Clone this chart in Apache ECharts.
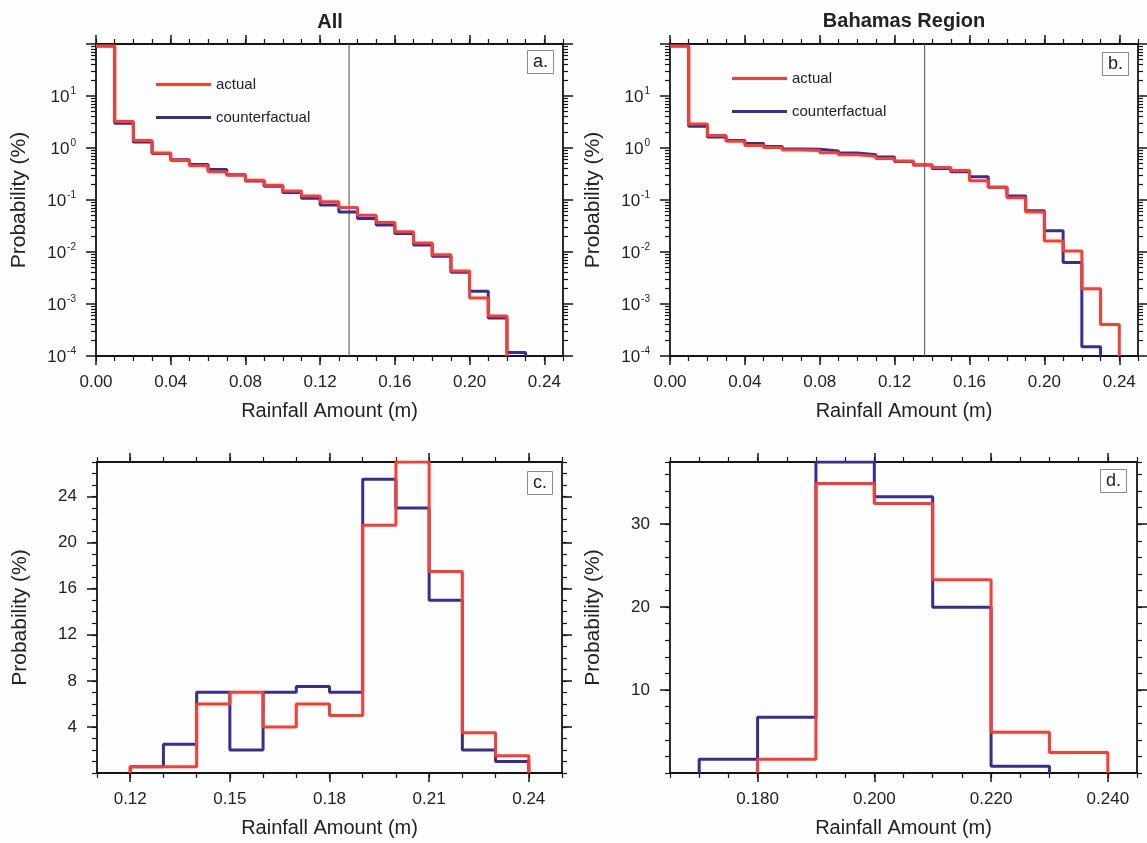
<!DOCTYPE html>
<html><head><meta charset="utf-8">
<script src="https://cdn.jsdelivr.net/npm/echarts@6/dist/echarts.min.js"></script>
<style>html,body{margin:0;padding:0;background:#fcfdfd}#c{width:1147px;height:843px}</style>
</head><body><div id="c"></div>
<script>
// ---------- data ----------
const binWidth = 0.01;
const binStartsAB = [0.00,0.01,0.02,0.03,0.04,0.05,0.06,0.07,0.08,0.09,0.10,0.11,0.12,0.13,0.14,0.15,0.16,0.17,0.18,0.19,0.20,0.21,0.22,0.23];
const aActual  = [92,3.25,1.39,0.805,0.577,0.455,0.349,0.298,0.239,0.192,0.149,0.12,0.093,0.0716,0.051,0.037,0.0245,0.0149,0.0089,0.0043,0.0013,0.00059,0,0];
const aCounter = [92,2.98,1.31,0.78,0.593,0.483,0.388,0.306,0.232,0.183,0.139,0.108,0.080,0.059,0.044,0.033,0.0228,0.0137,0.0083,0.0041,0.00175,0.00054,0.000117,0];
const bActual  = [92,2.89,1.73,1.35,1.12,1.02,0.92,0.90,0.81,0.74,0.69,0.63,0.56,0.475,0.42,0.37,0.235,0.175,0.111,0.059,0.0162,0.0105,0.00197,0.000404];
const bCounter = [92,2.61,1.63,1.39,1.22,1.07,0.96,0.95,0.88,0.80,0.74,0.67,0.55,0.47,0.405,0.35,0.28,0.176,0.12,0.062,0.0257,0.0063,0.000151,0];
const thresholdA = 0.1355;
const thresholdB = 0.136;

const binStartsC = [0.12,0.13,0.14,0.15,0.16,0.17,0.18,0.19,0.20,0.21,0.22,0.23];
const cActual  = [0.55,0.55,6.0,7.0,4.0,6.0,5.0,21.5,27,17.5,3.5,1.5];
const cCounter = [0.55,2.5,7.0,2.0,7.0,7.5,7.0,25.5,23.0,15.0,2.0,1.0];

const binStartsD = [0.17,0.18,0.19,0.20,0.21,0.22,0.23];
const dActual  = [0,1.67,34.9,32.5,23.3,4.9,2.46];
const dCounter = [1.67,6.72,37.5,33.3,20.0,0.8,0];

// tick labels
const xTicksAB = [0.00,0.04,0.08,0.12,0.16,0.20,0.24];
const yTicksLog = [1e-4,1e-3,1e-2,1e-1,1,10];
const xTicksC = [0.12,0.15,0.18,0.21,0.24];
const yTicksC = [4,8,12,16,20,24];
const xTicksD = [0.18,0.20,0.22,0.24];
const yTicksD = [10,20,30];

const panelTitles = ['All','Bahamas Region'];
const panelTags = ['a.','b.','c.','d.'];
const seriesNames = ['actual','counterfactual'];

// ---------- styling ----------
const FONT = 'Liberation Sans, Arial, Helvetica, sans-serif';
const RED = '#ff3b2f', BLUE = '#3a2c98', INK = '#151515', TXT = '#222';

const grids = [
  {left:96, top:44, width:467, height:312},
  {left:670, top:44, width:468, height:312},
  {left:97, top:462, width:465, height:311},
  {left:670, top:462, width:467, height:311}
];

const logMinor = [];
for (let e = -4; e <= 1; e++) for (let m = 2; m <= 9; m++) logMinor.push(+(m * Math.pow(10, e)).toPrecision(3));
const logMajor = [1e-4,1e-3,1e-2,1e-1,1,10,100];

const xAxes = [], yAxes = [];
function addX(gi, c) {
  const base = {type:'value', gridIndex:gi, min:c.min, max:c.max, splitLine:{show:false}};
  const major = pos => Object.assign({}, base, {
    position:pos,
    axisLine:{show:true, onZero:false, lineStyle:{color:INK, width:1.8}},
    axisTick:{show:true, inside:false, length:9, customValues:c.majors, lineStyle:{color:INK, width:1.5}},
    axisLabel: pos === 'bottom' ? {show:true, customValues:c.majors, formatter:c.fmt, margin:18, fontSize:17, color:TXT, fontFamily:FONT} : {show:false},
    name: pos === 'bottom' ? 'Rainfall Amount (m)' : '',
    nameLocation:'middle', nameGap:45,
    nameTextStyle:{fontSize:20, color:TXT, fontFamily:FONT}
  });
  const minor = pos => Object.assign({}, base, {
    position:pos, interval:c.minorStep,
    axisLine:{show:false, onZero:false},
    axisTick:{show:true, inside:false, length:5, lineStyle:{color:INK, width:1.2}},
    axisLabel:{show:false}
  });
  const idx = xAxes.length;
  xAxes.push(major('bottom'), minor('bottom'), major('top'), minor('top'));
  return idx;
}
function addY(gi, c) {
  const base = {type:c.type, gridIndex:gi, min:c.min, max:c.max, splitLine:{show:false}};
  if (c.type === 'log') base.logBase = 10;
  const major = pos => Object.assign({}, base, {
    position:pos,
    axisLine:{show:true, onZero:false, lineStyle:{color:INK, width:1.8}},
    axisTick:{show:true, inside:false, length:10, customValues:c.majors, lineStyle:{color:INK, width:1.5}},
    axisLabel: pos === 'left' ? {show:true, customValues:c.labels, formatter:c.fmt, rich:c.rich, margin:20, fontSize:17, color:TXT, fontFamily:FONT} : {show:false},
    name: pos === 'left' ? 'Probability (%)' : '',
    nameLocation:'middle', nameGap:66, nameRotate:90,
    nameTextStyle:{fontSize:21, color:TXT, fontFamily:FONT}
  });
  const minor = pos => {
    const o = Object.assign({}, base, {
      position:pos,
      axisLine:{show:false, onZero:false},
      axisTick:{show:true, inside:false, length:5, lineStyle:{color:INK, width:1.2}},
      axisLabel:{show:false}
    });
    if (c.minorValues) o.axisTick.customValues = c.minorValues; else o.interval = c.minorStep;
    return o;
  };
  const idx = yAxes.length;
  yAxes.push(major('left'), minor('left'), major('right'), minor('right'));
  return idx;
}

const fmt2 = v => v.toFixed(2);
const fmt3 = v => v.toFixed(3);
const logFmt = v => '{b|10}{s|' + Math.round(Math.log10(v)) + '}';
const logRich = {
  b:{fontSize:17, color:TXT, fontFamily:FONT, verticalAlign:'bottom'},
  s:{fontSize:10, color:TXT, fontFamily:FONT, verticalAlign:'bottom', padding:[0,0,9,1]}
};

const panels = [
  {x:{min:0, max:0.25, majors:xTicksAB, minorStep:0.01, fmt:fmt2},
   y:{type:'log', min:1e-4, max:100, majors:logMajor, labels:yTicksLog, minorValues:logMinor, fmt:logFmt, rich:logRich},
   starts:binStartsAB, act:aActual, cf:aCounter, floor:1e-4, top:100, lead:false, thr:thresholdA},
  {x:{min:0, max:0.25, majors:xTicksAB, minorStep:0.01, fmt:fmt2},
   y:{type:'log', min:1e-4, max:100, majors:logMajor, labels:yTicksLog, minorValues:logMinor, fmt:logFmt, rich:logRich},
   starts:binStartsAB, act:bActual, cf:bCounter, floor:1e-4, top:100, lead:false, thr:thresholdB},
  {x:{min:0.11, max:0.25, majors:xTicksC, minorStep:0.01, fmt:fmt2},
   y:{type:'value', min:0, max:27, majors:yTicksC, labels:yTicksC, minorStep:1, fmt:v => String(v)},
   starts:binStartsC, act:cActual, cf:cCounter, floor:0, lead:true},
  {x:{min:0.165, max:0.245, majors:xTicksD, minorStep:0.005, fmt:fmt3},
   y:{type:'value', min:0, max:37.5, majors:yTicksD, labels:yTicksD, minorStep:2, fmt:v => String(v)},
   starts:binStartsD, act:dActual, cf:dCounter, floor:0, lead:true}
];

function stepPoints(starts, vals, floor, lead) {
  let first = -1, last = -1;
  vals.forEach((v, i) => { if (v > 0) { if (first < 0) first = i; last = i; } });
  const pts = [];
  if (lead) pts.push([starts[first], floor]);
  for (let i = first; i <= last; i++) {
    const end = +(starts[i] + binWidth).toFixed(4);
    pts.push([starts[i], vals[i]]);
    pts.push([end, vals[i]]);
  }
  pts.push([+(starts[last] + binWidth).toFixed(4), floor]);
  return pts;
}

const series = [];
panels.forEach((p, gi) => {
  const xi = addX(gi, p.x);
  const yi = addY(gi, p.y);
  if (p.thr !== undefined) {
    series.push({
      type:'line', name:'threshold', xAxisIndex:xi, yAxisIndex:yi,
      data:[[p.thr, p.floor], [p.thr, p.top]], showSymbol:false, symbol:'none', silent:true,
      color:'#6a6a6a', lineStyle:{color:'#6a6a6a', width:1.2}, z:2, animation:false
    });
  }
  series.push({
    type:'line', name:seriesNames[1], xAxisIndex:xi, yAxisIndex:yi,
    data:stepPoints(p.starts, p.cf, p.floor, p.lead), showSymbol:false, symbol:'none',
    color:BLUE, lineStyle:{color:BLUE, width:3}, z:3, animation:false
  });
  series.push({
    type:'line', name:seriesNames[0], xAxisIndex:xi, yAxisIndex:yi,
    data:stepPoints(p.starts, p.act, p.floor, p.lead), showSymbol:false, symbol:'none',
    color:RED, lineStyle:{color:RED, width:3}, z:4, animation:false
  });
});

const tagPos = [[527,50],[1102,52],[527,471],[1100,469]];
const titles = panelTags.map((t, i) => ({
  text:t, left:tagPos[i][0], top:tagPos[i][1], padding:[3,6,3,6],
  borderColor:'#8a8a8a', borderWidth:1,
  textStyle:{fontSize:18, fontWeight:'normal', color:TXT, fontFamily:FONT}
}));

const legendCommon = {
  orient:'vertical', data:[seriesNames[0], seriesNames[1]], icon:'rect',
  itemWidth:55, itemHeight:3, itemGap:18, padding:0, selectedMode:false,
  textStyle:{fontSize:15, color:TXT, fontFamily:FONT}
};

const chart = echarts.init(document.getElementById('c'), null, {renderer:'canvas'});
chart.setOption({
  backgroundColor:'#fcfdfd',
  animation:false,
  title:titles,
  legend:[Object.assign({left:156, top:77}, legendCommon), Object.assign({left:732, top:71}, legendCommon)],
  grid:grids,
  xAxis:xAxes,
  yAxis:yAxes,
  series:series,
  graphic:[
    {type:'text', x:330, y:22, style:{text:panelTitles[0], align:'center', verticalAlign:'middle', font:'bold 20px ' + FONT, fill:TXT}},
    {type:'text', x:904, y:21, style:{text:panelTitles[1], align:'center', verticalAlign:'middle', font:'bold 20px ' + FONT, fill:TXT}}
  ]
});
</script></body></html>
